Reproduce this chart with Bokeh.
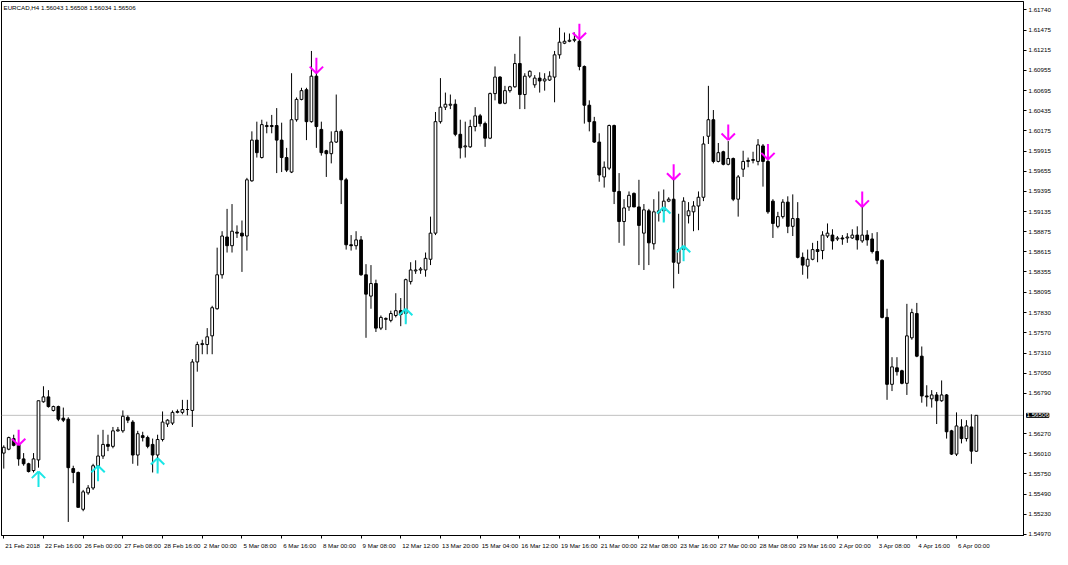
from bokeh.plotting import figure
from bokeh.models import ColumnDataSource, Range1d, FixedTicker, PrintfTickFormatter, Span, Label
from bokeh.embed import file_html
from bokeh.resources import INLINE

symbol = "EURCAD,H4"

open_ = [
    1.56019, 1.56069, 1.56206, 1.56131, 1.55944, 1.55881, 1.55794, 1.55931, 1.56681, 1.56744,
    1.56569, 1.56619, 1.56469, 1.56456, 1.55819, 1.55769, 1.55294, 1.55506, 1.55569, 1.55856,
    1.55981, 1.56131, 1.56106, 1.56306, 1.56306, 1.56481, 1.56419, 1.55994, 1.56244, 1.56219,
    1.56131, 1.55994, 1.56194, 1.56394, 1.56406, 1.56544, 1.56544, 1.56581, 1.56569, 1.57194,
    1.57419, 1.57419, 1.57531, 1.57881, 1.58319, 1.58806, 1.58694, 1.58869, 1.58856, 1.58819,
    1.59531, 1.60056, 1.59831, 1.60231, 1.60244, 1.60244, 1.60056, 1.59831, 1.59644, 1.60319,
    1.60581, 1.60706, 1.60294, 1.60881, 1.60194, 1.59919, 1.59881, 1.60031, 1.60169, 1.59544,
    1.58706, 1.58694, 1.58769, 1.58319, 1.58044, 1.58206, 1.57631, 1.57744, 1.57731, 1.57794,
    1.57856, 1.57819, 1.58231, 1.58369, 1.58381, 1.58381, 1.58519, 1.58856, 1.60294, 1.60481,
    1.60506, 1.60519, 1.60131, 1.59969, 1.59969, 1.60231, 1.60369, 1.60269, 1.60081, 1.60656,
    1.60869, 1.60531, 1.60694, 1.60744, 1.61044, 1.60644, 1.60881, 1.60769, 1.60856, 1.60819,
    1.60831, 1.60869, 1.61156, 1.61306, 1.61331, 1.61344, 1.61331, 1.61006, 1.60506, 1.60294,
    1.60031, 1.59581, 1.59694, 1.60244, 1.59394, 1.59006, 1.59194, 1.59369, 1.59194, 1.58856,
    1.59144, 1.58719, 1.59119, 1.59144, 1.59269, 1.59294, 1.58469, 1.58644, 1.59081, 1.59131,
    1.59206, 1.59319, 1.60106, 1.60319, 1.59781, 1.59906, 1.59744, 1.59819, 1.59294, 1.59681,
    1.59781, 1.59794, 1.59781, 1.59981, 1.59781, 1.59269, 1.58944, 1.59069, 1.59256, 1.58944,
    1.59044, 1.58544, 1.58431, 1.58519, 1.58644, 1.58631, 1.58819, 1.58831, 1.58781, 1.58794,
    1.58794, 1.58794, 1.58831, 1.58756, 1.58831, 1.58781, 1.58619, 1.58506, 1.57769, 1.56906,
    1.57119, 1.57081, 1.56919, 1.57506, 1.57819, 1.57269, 1.56756, 1.56719, 1.56769, 1.56694,
    1.56769, 1.56306, 1.56006, 1.56356, 1.56206, 1.56356, 1.56043,
]
high = [
    1.56119, 1.56231, 1.56256, 1.56156, 1.56019, 1.55894, 1.56019, 1.56694, 1.56881, 1.56831,
    1.56631, 1.56631, 1.56606, 1.56481, 1.55856, 1.55781, 1.55544, 1.55606, 1.55881, 1.56256,
    1.56319, 1.56256, 1.56356, 1.56356, 1.56569, 1.56506, 1.56444, 1.56306, 1.56294, 1.56244,
    1.56206, 1.56256, 1.56556, 1.56456, 1.56569, 1.56581, 1.56706, 1.56706, 1.57231, 1.57456,
    1.57481, 1.57631, 1.57919, 1.58669, 1.58881, 1.59169, 1.59231, 1.58956, 1.59019, 1.59569,
    1.60169, 1.60294, 1.60319, 1.60294, 1.60381, 1.60469, 1.60281, 1.59956, 1.60919, 1.60606,
    1.60731, 1.60731, 1.61206, 1.60919, 1.60294, 1.59931, 1.60169, 1.60644, 1.60194, 1.59569,
    1.58831, 1.58881, 1.58819, 1.58456, 1.58444, 1.58256, 1.57794, 1.57769, 1.57856, 1.58081,
    1.58019, 1.58269, 1.58481, 1.58506, 1.58419, 1.58606, 1.59069, 1.60419, 1.60856, 1.60669,
    1.60644, 1.60581, 1.60319, 1.60294, 1.60319, 1.60481, 1.60394, 1.60294, 1.60669, 1.61006,
    1.60881, 1.60756, 1.60756, 1.61169, 1.61394, 1.60919, 1.60956, 1.60894, 1.60931, 1.60919,
    1.60944, 1.61206, 1.61506, 1.61444, 1.61431, 1.61444, 1.61431, 1.61019, 1.60569, 1.60356,
    1.60144, 1.59781, 1.60256, 1.60256, 1.59631, 1.59294, 1.59394, 1.59381, 1.59544, 1.59231,
    1.59169, 1.59294, 1.59394, 1.59419, 1.59319, 1.59569, 1.59106, 1.59319, 1.59256, 1.59269,
    1.59394, 1.60106, 1.60756, 1.60444, 1.60019, 1.59919, 1.60044, 1.59831, 1.59606, 1.59919,
    1.59831, 1.59906, 1.60069, 1.60006, 1.59856, 1.59294, 1.59131, 1.59294, 1.59331, 1.59356,
    1.59256, 1.58606, 1.58644, 1.58731, 1.58756, 1.58881, 1.58981, 1.58906, 1.58819, 1.58831,
    1.58856, 1.58906, 1.58944, 1.59194, 1.58894, 1.58856, 1.58869, 1.58519, 1.57881, 1.57256,
    1.57256, 1.57094, 1.57944, 1.57881, 1.57956, 1.57394, 1.56894, 1.56831, 1.56806, 1.56956,
    1.56781, 1.56319, 1.56544, 1.56456, 1.56444, 1.56519, 1.56508,
]
low = [
    1.55819, 1.56056, 1.56106, 1.55856, 1.55856, 1.55769, 1.55769, 1.55831, 1.56669, 1.56606,
    1.56556, 1.56431, 1.56419, 1.55131, 1.55631, 1.55319, 1.55269, 1.55481, 1.55544, 1.55669,
    1.55944, 1.56044, 1.56081, 1.56294, 1.56281, 1.56406, 1.55881, 1.55856, 1.56169, 1.56081,
    1.55769, 1.55781, 1.56169, 1.56356, 1.56381, 1.56531, 1.56519, 1.56506, 1.56356, 1.57069,
    1.57294, 1.57294, 1.57294, 1.57869, 1.58269, 1.58606, 1.58606, 1.58794, 1.58356, 1.58631,
    1.59519, 1.59831, 1.59819, 1.60144, 1.60144, 1.59631, 1.59644, 1.59644, 1.59631, 1.60294,
    1.60569, 1.60056, 1.60281, 1.59956, 1.59856, 1.59581, 1.59756, 1.60019, 1.59231, 1.58644,
    1.58631, 1.58644, 1.58306, 1.57506, 1.57881, 1.57581, 1.57606, 1.57606, 1.57706, 1.57769,
    1.57656, 1.57694, 1.58194, 1.58331, 1.58331, 1.58294, 1.58444, 1.58831, 1.60269, 1.60444,
    1.60456, 1.60106, 1.59819, 1.59831, 1.59956, 1.60169, 1.60231, 1.59969, 1.60069, 1.60569,
    1.60519, 1.60519, 1.60669, 1.60731, 1.60456, 1.60456, 1.60856, 1.60731, 1.60669, 1.60694,
    1.60819, 1.60544, 1.61106, 1.61294, 1.61319, 1.61319, 1.60956, 1.60269, 1.60169, 1.60019,
    1.59519, 1.59444, 1.59669, 1.59231, 1.58731, 1.58694, 1.59144, 1.59194, 1.58444, 1.58381,
    1.58444, 1.58644, 1.59006, 1.59006, 1.59256, 1.58144, 1.58331, 1.58631, 1.58981, 1.58881,
    1.58894, 1.59269, 1.60006, 1.59756, 1.59769, 1.59731, 1.59731, 1.59269, 1.59069, 1.59581,
    1.59706, 1.59756, 1.59731, 1.59456, 1.59106, 1.58794, 1.58919, 1.59044, 1.58856, 1.58819,
    1.58531, 1.58319, 1.58269, 1.58506, 1.58481, 1.58519, 1.58794, 1.58644, 1.58756, 1.58706,
    1.58731, 1.58781, 1.58644, 1.58731, 1.58694, 1.58594, 1.58456, 1.57756, 1.56706, 1.56819,
    1.57019, 1.56906, 1.56769, 1.57481, 1.57256, 1.56669, 1.56619, 1.56606, 1.56394, 1.56681,
    1.56206, 1.55994, 1.55981, 1.56144, 1.56169, 1.55881, 1.56034,
]
close = [
    1.56094, 1.56219, 1.56119, 1.55944, 1.55881, 1.55781, 1.55944, 1.56694, 1.56744, 1.56619,
    1.56619, 1.56456, 1.56444, 1.55831, 1.55769, 1.55319, 1.55519, 1.55569, 1.55856, 1.55981,
    1.56131, 1.56106, 1.56306, 1.56319, 1.56494, 1.56444, 1.55994, 1.56269, 1.56219, 1.56106,
    1.55994, 1.56194, 1.56419, 1.56444, 1.56544, 1.56556, 1.56581, 1.56581, 1.57194, 1.57419,
    1.57431, 1.57519, 1.57894, 1.58319, 1.58819, 1.58694, 1.58881, 1.58856, 1.58819, 1.59544,
    1.60056, 1.59894, 1.60256, 1.60244, 1.60231, 1.60056, 1.59831, 1.59669, 1.60319, 1.60581,
    1.60694, 1.60294, 1.60881, 1.60231, 1.59894, 1.59881, 1.60031, 1.60169, 1.59544, 1.58706,
    1.58694, 1.58769, 1.58319, 1.58069, 1.58206, 1.57631, 1.57769, 1.57756, 1.57819, 1.57856,
    1.57806, 1.58256, 1.58381, 1.58381, 1.58394, 1.58531, 1.58856, 1.60294, 1.60481, 1.60519,
    1.60519, 1.60131, 1.59956, 1.59981, 1.60231, 1.60369, 1.60269, 1.60081, 1.60656, 1.60869,
    1.60531, 1.60694, 1.60744, 1.61044, 1.60644, 1.60881, 1.60944, 1.60856, 1.60819, 1.60844,
    1.60881, 1.61156, 1.61319, 1.61331, 1.61344, 1.61356, 1.61006, 1.60506, 1.60294, 1.60031,
    1.59606, 1.59706, 1.60244, 1.59394, 1.59006, 1.59181, 1.59344, 1.59194, 1.58956, 1.59156,
    1.58731, 1.59131, 1.59144, 1.59269, 1.59294, 1.58481, 1.58644, 1.59269, 1.59144, 1.59206,
    1.59319, 1.60006, 1.60319, 1.59781, 1.59894, 1.59744, 1.59819, 1.59294, 1.59581, 1.59781,
    1.59794, 1.59806, 1.59994, 1.59781, 1.59131, 1.58981, 1.59069, 1.59256, 1.58944, 1.59044,
    1.58544, 1.58444, 1.58519, 1.58644, 1.58619, 1.58831, 1.58856, 1.58756, 1.58794, 1.58781,
    1.58806, 1.58831, 1.58769, 1.58831, 1.58769, 1.58619, 1.58506, 1.57769, 1.56906, 1.57131,
    1.57069, 1.56919, 1.57531, 1.57831, 1.57269, 1.56756, 1.56744, 1.56769, 1.56694, 1.56769,
    1.56294, 1.56006, 1.56369, 1.56206, 1.56369, 1.56044, 1.56506,
]

tick_bars = [0, 8, 16, 24, 32, 40, 48, 56, 64, 72, 80, 88, 96, 104, 112, 120,
             128, 136, 144, 152, 160, 168, 176, 184, 192]
tick_labels = ["21 Feb 2018", "22 Feb 16:00", "26 Feb 00:00", "27 Feb 08:00", "28 Feb 16:00",
               "2 Mar 00:00", "5 Mar 08:00", "6 Mar 16:00", "8 Mar 00:00", "9 Mar 08:00",
               "12 Mar 12:00", "13 Mar 20:00", "15 Mar 04:00", "16 Mar 12:00", "19 Mar 16:00",
               "21 Mar 00:00", "22 Mar 08:00", "23 Mar 16:00", "27 Mar 00:00", "28 Mar 08:00",
               "29 Mar 16:00", "2 Apr 00:00", "3 Apr 08:00", "4 Apr 16:00", "6 Apr 00:00"]
price_ticks = [1.61740, 1.61475, 1.61215, 1.60955, 1.60695, 1.60435, 1.60175, 1.59915,
               1.59655, 1.59395, 1.59135, 1.58875, 1.58615, 1.58355, 1.58095, 1.57830,
               1.57570, 1.57310, 1.57050, 1.56790, 1.56270, 1.56010, 1.55750, 1.55490,
               1.55230, 1.54970]

sell_bars = [3, 63, 116, 135, 146, 154, 173]
sell_tips = [1.56119, 1.60919, 1.61356, 1.59544, 1.60056, 1.59806, 1.59194]
buy_bars = [7, 19, 31, 81, 133, 137]
buy_tips = [1.55781, 1.55856, 1.55956, 1.57881, 1.59194, 1.58694]

# ---------------- styling / layout ----------------
FONT = "Liberation Sans"
FSIZE = 6.2
FS = f"{FSIZE}px"
FW, FH = 1022, 534
X_START, X_END = -0.457, 205.5
Y_START, Y_END = 1.54956, 1.61844
ARROW_LEN = 0.0020
HEAD_H = 0.00085
HEAD_W = 1.35

bars = list(range(len(open_)))
src = ColumnDataSource(dict(
    x=bars, h=high, l=low,
    top=[max(o, c) for o, c in zip(open_, close)],
    bottom=[min(o, c) for o, c in zip(open_, close)],
    fill=["white" if c >= o else "black" for o, c in zip(open_, close)],
))

p = figure(frame_width=FW, frame_height=FH,
           x_range=Range1d(X_START, X_END), y_range=Range1d(Y_START, Y_END),
           y_axis_location="right", toolbar_location=None, output_backend="svg",
           min_border_left=1, min_border_top=1, min_border_right=0, min_border_bottom=0)
p.grid.visible = False
p.outline_line_color = "black"
p.outline_line_width = 1
p.background_fill_color = "white"
p.border_fill_color = "white"

last_price = close[-1]
p.add_layout(Span(location=last_price, dimension="width", line_color="#C0C0C0",
                  line_width=1, level="underlay"))

p.segment(x0="x", y0="h", x1="x", y1="l", source=src, line_color="black", line_width=1)
p.vbar(x="x", width=0.55, top="top", bottom="bottom", fill_color="fill",
       line_color="black", line_width=1, source=src)


def arrows(bx, tips, direction):
    x0, y0, x1, y1 = [], [], [], []
    for b, t in zip(bx, tips):
        for dx, dy in ((0, ARROW_LEN), (-HEAD_W, HEAD_H), (HEAD_W, HEAD_H)):
            x0.append(b); y0.append(t)
            x1.append(b + dx); y1.append(t + direction * dy)
    return dict(x0=x0, y0=y0, x1=x1, y1=y1)


p.segment(x0="x0", y0="y0", x1="x1", y1="y1",
          source=ColumnDataSource(arrows(sell_bars, sell_tips, 1)),
          line_color="#FF00FF", line_width=2)
p.segment(x0="x0", y0="y0", x1="x1", y1="y1",
          source=ColumnDataSource(arrows(buy_bars, buy_tips, -1)),
          line_color="#1AE6E6", line_width=2)

# right price axis
yax = p.yaxis[0]
yax.ticker = FixedTicker(ticks=price_ticks)
yax.formatter = PrintfTickFormatter(format="%.5f")
yax.major_tick_out = 3
yax.major_tick_in = 0
yax.minor_tick_line_color = None
yax.major_label_standoff = 2
yax.major_label_text_font = FONT
yax.major_label_text_font_size = FS
yax.major_label_text_color = "black"
yax.axis_line_color = "black"
yax.major_tick_line_color = "black"

# time axis: tick marks at the bars, labels starting right of each tick
CW = {" ": 0.278, ":": 0.278, "F": 0.611, "e": 0.556, "b": 0.556, "M": 0.833,
      "a": 0.556, "r": 0.333, "A": 0.667, "p": 0.556}
ppb = FW / (X_END - X_START)
label_pos = [round(b + (1.5 + sum(CW.get(ch, 0.556) for ch in t) * FSIZE / 2) / ppb, 4)
             for b, t in zip(tick_bars, tick_labels)]
xax = p.xaxis[0]
xax.ticker = FixedTicker(ticks=label_pos, minor_ticks=tick_bars)
xax.major_label_overrides = dict(zip(label_pos, tick_labels))
xax.major_tick_line_color = None
xax.major_tick_out = 0
xax.major_tick_in = 0
xax.minor_tick_out = 3
xax.minor_tick_in = 0
xax.minor_tick_line_color = "black"
xax.major_label_standoff = 3
xax.major_label_text_font = FONT
xax.major_label_text_font_size = FS
xax.major_label_text_color = "black"
xax.axis_line_color = "black"

header = f"{symbol}  {open_[-1]:.5f} {high[-1]:.5f} {low[-1]:.5f} {close[-1]:.5f}"
p.add_layout(Label(x=2, y=FH - 2, x_units="screen", y_units="screen", text=header,
                   text_font=FONT, text_font_size=FS, text_color="black",
                   text_align="left", text_baseline="top"))

# current price tag on the price scale (side-panel label, so not clipped to the frame)
p.add_layout(Label(x=FW + 3, y=last_price, x_units="screen", y_units="data",
                   text=f"{last_price:.5f}", text_font=FONT, text_font_size=FS,
                   text_color="white", background_fill_color="black",
                   border_line_color="black", border_line_width=1,
                   text_align="left", text_baseline="middle"), "below")

open("out.html", "w").write(file_html(p, INLINE))
